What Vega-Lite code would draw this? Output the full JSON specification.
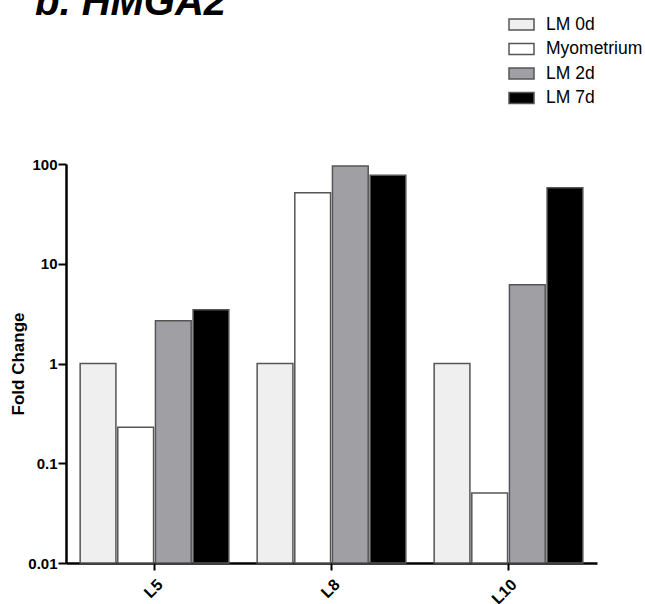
{
  "$schema": "https://vega.github.io/schema/vega-lite/v6.json",
  "autosize": {"type": "none"},
  "width": 531,
  "height": 399,
  "padding": {"left": 66, "top": 164, "right": 48, "bottom": 41},
  "background": "white",
  "title": {
    "text": "b. HMGA2",
    "anchor": "start",
    "frame": "group",
    "orient": "top",
    "font": "Liberation Sans",
    "fontSize": 40,
    "fontWeight": "bold",
    "fontStyle": "italic",
    "color": "#000000",
    "baseline": "alphabetic",
    "offset": 0,
    "dx": -31,
    "dy": 44
  },
  "data": {
    "values": [
      {"line": "L5", "group": "LM 0d", "fold": 1},
      {"line": "L5", "group": "Myometrium", "fold": 0.229},
      {"line": "L5", "group": "LM 2d", "fold": 2.69},
      {"line": "L5", "group": "LM 7d", "fold": 3.46},
      {"line": "L8", "group": "LM 0d", "fold": 1},
      {"line": "L8", "group": "Myometrium", "fold": 51.5},
      {"line": "L8", "group": "LM 2d", "fold": 95.5},
      {"line": "L8", "group": "LM 7d", "fold": 77.1},
      {"line": "L10", "group": "LM 0d", "fold": 1},
      {"line": "L10", "group": "Myometrium", "fold": 0.0504},
      {"line": "L10", "group": "LM 2d", "fold": 6.17},
      {"line": "L10", "group": "LM 7d", "fold": 57.8}
    ]
  },
  "mark": {"type": "bar", "stroke": "#555555", "strokeWidth": 1.5},
  "encoding": {
    "x": {
      "field": "line",
      "type": "nominal",
      "sort": ["L5", "L8", "L10"],
      "scale": {"paddingInner": 0.16, "paddingOuter": 0.08},
      "axis": {
        "title": null,
        "labelAngle": -45,
        "labelFont": "Liberation Sans",
        "labelFontSize": 16,
        "labelFontWeight": "bold",
        "labelColor": "#000000",
        "labelPadding": 6,
        "domainColor": "#000000",
        "domainWidth": 2.5,
        "tickColor": "#000000",
        "tickWidth": 2,
        "tickSize": 7
      }
    },
    "xOffset": {
      "field": "group",
      "type": "nominal",
      "sort": ["LM 0d", "Myometrium", "LM 2d", "LM 7d"],
      "scale": {"paddingInner": 0.05}
    },
    "y": {
      "field": "fold",
      "type": "quantitative",
      "stack": null,
      "scale": {"type": "log", "domain": [0.01, 100], "nice": false},
      "axis": {
        "title": "Fold Change",
        "titleFont": "Liberation Sans",
        "titleFontSize": 17,
        "titleFontWeight": "bold",
        "titleColor": "#000000",
        "titlePadding": 0,
        "values": [0.01, 0.1, 1, 10, 100],
        "format": "~g",
        "grid": false,
        "labelFont": "Liberation Sans",
        "labelFontSize": 15,
        "labelFontWeight": "bold",
        "labelColor": "#000000",
        "labelPadding": 1,
        "domainColor": "#000000",
        "domainWidth": 2.5,
        "tickColor": "#000000",
        "tickWidth": 2,
        "tickSize": 8
      }
    },
    "y2": {"datum": 0.01},
    "fill": {
      "field": "group",
      "type": "nominal",
      "scale": {
        "domain": ["LM 0d", "Myometrium", "LM 2d", "LM 7d"],
        "range": ["#efefef", "#ffffff", "#a09fa4", "#000000"]
      },
      "legend": {
        "title": null,
        "orient": "none",
        "legendX": 442,
        "legendY": -153,
        "padding": 0,
        "symbolType": "M-1,-0.44H1V0.44H-1Z",
        "symbolSize": 625,
        "symbolStrokeColor": "#555555",
        "symbolStrokeWidth": 1.5,
        "symbolOpacity": 1,
        "labelFont": "Liberation Sans",
        "labelFontSize": 17.5,
        "labelColor": "#000000",
        "labelOffset": 11,
        "rowPadding": 2.5
      }
    }
  },
  "config": {"view": {"stroke": null}}
}
